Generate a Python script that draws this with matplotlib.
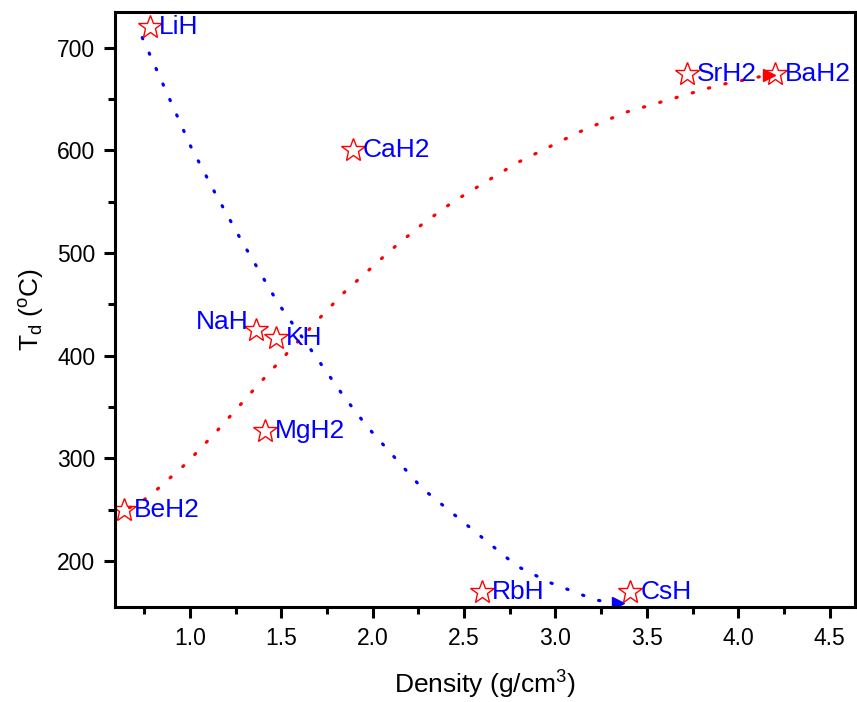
import matplotlib
matplotlib.use("Agg")
import matplotlib.pyplot as plt
from matplotlib.ticker import MultipleLocator, FormatStrFormatter

plt.rcParams['font.family'] = ['Liberation Sans', 'DejaVu Sans']
plt.rcParams['mathtext.default'] = 'regular'

# Hydride data
names = ["LiH", "BeH2", "NaH", "KH", "MgH2", "CaH2", "SrH2", "BaH2", "RbH", "CsH"]
density = [0.78, 0.64, 1.36, 1.47, 1.41, 1.89, 3.72, 4.20, 2.60, 3.41]
td = [720, 250, 425, 417, 327, 600, 675, 675, 170, 170]

# Blue dotted trend curve
blue_x = [0.74, 0.89, 1.005, 1.14, 1.28, 1.48, 1.84, 1.97, 2.27, 2.79, 2.97, 3.22, 3.34]
blue_y = [710, 650, 604, 558, 513, 452, 361, 331, 271, 195, 179, 162, 159]

# Red dotted trend curve
red_x = [0.67, 0.73, 0.81, 0.98, 1.14, 1.37, 1.68, 1.84, 2.10, 2.27, 2.44, 2.79, 3.13, 3.38, 3.90, 4.07, 4.17]
red_y = [252, 257, 268, 295, 325, 371, 431, 461, 503, 528, 550, 588, 618, 637, 664, 670, 674]

fig = plt.figure(figsize=(8.57, 7.02), dpi=100)
ax = fig.add_axes([0.134, 0.135, 0.864, 0.848])

ax.plot(blue_x, blue_y, color='blue', lw=2.3, linestyle=(0, (0.4, 4.9)),
        dash_capstyle='round')
ax.plot(blue_x[-1:], blue_y[-1:], marker='>', color='blue', ms=8, lw=0)
ax.plot(red_x, red_y, color='red', lw=2.3, linestyle=(0, (0.4, 4.9)),
        dash_capstyle='round')
ax.plot(red_x[-1:], red_y[-1:], marker='>', color='red', ms=8, lw=0)

ax.plot(density, td, linestyle='none', marker='*', ms=18, mfc='none',
        mec='red', mew=1.0)

for n, x, y in zip(names, density, td):
    if n == "NaH":
        ax.annotate(n, (x, y), xytext=(-5, 6), textcoords='offset points',
                    ha='right', va='center', color='blue', fontsize=19)
    else:
        ax.annotate(n, (x, y), xytext=(7, 0), textcoords='offset points',
                    ha='left', va='center', color='blue', fontsize=19)

ax.set_xlim(0.59, 4.64)
ax.set_ylim(155, 735)
ax.xaxis.set_major_locator(MultipleLocator(0.5))
ax.xaxis.set_minor_locator(MultipleLocator(0.25))
ax.xaxis.set_major_formatter(FormatStrFormatter('%.1f'))
ax.yaxis.set_major_locator(MultipleLocator(100))
ax.yaxis.set_minor_locator(MultipleLocator(50))
ax.set_xticks([1.0, 1.5, 2.0, 2.5, 3.0, 3.5, 4.0, 4.5])
ax.set_yticks([200, 300, 400, 500, 600, 700])

ax.tick_params(which='major', direction='out', length=8, width=2.2,
               labelsize=16.5, colors='black', pad=6)
ax.tick_params(which='minor', direction='out', length=5, width=2.2)
ax.tick_params(top=False, right=False, which='both')
for s in ax.spines.values():
    s.set_linewidth(2.2)

ax.set_xlabel("Density (g/cm$^3$)", fontsize=19, labelpad=14)
ax.set_ylabel("T$_d$ ($^o$C)", fontsize=19, labelpad=8)

fig.savefig("out.png", dpi=100)
